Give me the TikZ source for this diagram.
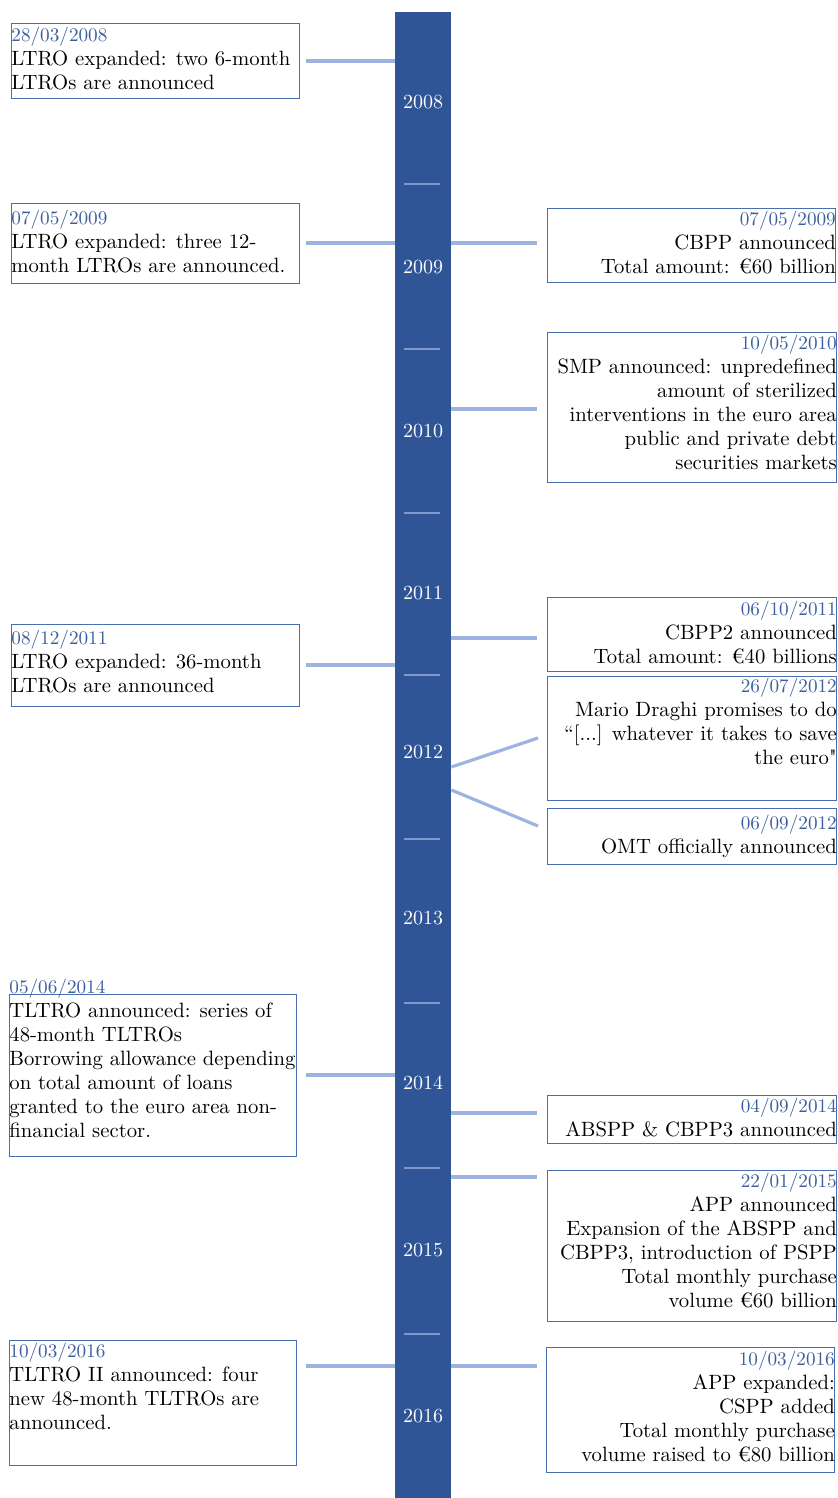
\documentclass[tikz,border=0pt]{standalone}
\usepackage{fontspec}
\usepackage{tikz}
\usetikzlibrary{positioning}
\newfontfamily\plainlm{Latin Modern Roman}
\definecolor{ecbblue}{HTML}{2F5597}
\definecolor{ecblight}{HTML}{9DB4E2}
\definecolor{ecbtick}{HTML}{7E98CC}
\definecolor{ecbframe}{HTML}{4A6FB0}
\definecolor{ecbdate}{HTML}{3A5E9E}
\newcommand{\evdate}[1]{{\fontsize{9.6pt}{12pt}\selectfont\textcolor{ecbdate}{#1}}}
\tikzset{
  bar/.style={rectangle, fill=ecbblue, inner sep=0pt, anchor=north},
  yearlbl/.style={text=white, inner sep=0pt},
  tickmark/.style={draw=ecbtick, line width=1pt},
  link/.style={draw=ecblight, line width=1.6pt},
  frame/.style={rectangle, draw=ecbframe, line width=0.6pt, inner sep=0pt, anchor=north west},
  evl/.style={inner sep=0pt, align=left, font=\fontsize{10.35pt}{12pt}\selectfont},
  evr/.style={inner sep=0pt, align=right, font=\fontsize{10.35pt}{12pt}\selectfont},
}

\begin{document}
\begin{tikzpicture}[x=0.5pt,y=-0.5pt]
  \useasboundingbox (0,0) rectangle (838,1498);
  % timeline bar
  \node[bar, minimum width=28pt, minimum height=743pt] (bar) at (423,12) {};
  \foreach \y in {184,349,513,675,839,1003,1168,1334}
    \draw[tickmark] (404,\y) -- (440,\y);
  \foreach \yr/\y in {2008/102,2009/267,2010/431,2011/593,2012/752,2013/918,2014/1083,2015/1250,2016/1416}
    \node[yearlbl] (y\yr) at (423,\y) {\yr};

  % connectors
  \foreach \n/\y in {a/61, b/243, c/665, d/1075, e/1366}{
    \coordinate (l\n) at (306,\y);
    \draw[link] (l\n) -- (bar.west |- l\n);
  }
  \foreach \n/\y in {a/243, b/409, c/638, f/1113, g/1177, h/1366}{
    \coordinate (r\n) at (537,\y);
    \draw[link] (bar.east |- r\n) -- (r\n);
  }
  \coordinate (rd) at (538,738);
  \coordinate (re) at (538,826);
  \coordinate (sd) at (451,767);
  \coordinate (se) at (451,790);
  \draw[link] (bar.east |- sd) -- (rd);
  \draw[link] (bar.east |- se) -- (re);

  % left events
  \node[frame, minimum width=144pt, minimum height=37.5pt] (fl08) at (11,23) {};
  \node[evl, below right=2pt and 0pt of fl08.north west] (tl08)
    {\evdate{28/03/2008}\\LTRO expanded: two 6-month\\LTROs are announced};
  \node[frame, minimum width=144pt, minimum height=40pt] (fl09) at (11,203) {};
  \node[evl, below right=3.5pt and 0pt of fl09.north west] (tl09)
    {\evdate{07/05/2009}\\LTRO expanded: three 12-\\month LTROs are announced.};
  \node[frame, minimum width=144pt, minimum height=41pt] (fl11) at (11,624) {};
  \node[evl, below right=3pt and 0pt of fl11.north west] (tl11)
    {\evdate{08/12/2011}\\LTRO expanded: 36-month\\LTROs are announced};
  \node[frame, minimum width=143.5pt, minimum height=81pt] (fl14) at (9,994) {};
  \node[evl, below right=-7.5pt and 0pt of fl14.north west] (tl14)
    {\evdate{05/06/2014}\\TLTRO announced: series of\\48-month TLTROs\\Borrowing allowance depending\\on total amount of loans\\granted to the euro area non-\\financial sector.};
  \node[frame, minimum width=143.5pt, minimum height=62.5pt] (fl16) at (9,1340) {};
  \node[evl, below right=1.5pt and 0pt of fl16.north west] (tl16)
    {\evdate{10/03/2016}\\TLTRO II announced: four\\new 48-month TLTROs are\\announced.};

  % right events
  \node[frame, minimum width=144pt, minimum height=37pt] (fr09) at (547,208) {};
  \node[evr, below left=1.5pt and 0pt of fr09.north east] (tr09)
    {\evdate{07/05/2009}\\CBPP announced\\Total amount: €60 billion};
  \node[frame, minimum width=144.5pt, minimum height=75pt] (fr10) at (547,332) {};
  \node[evr, below left=1.5pt and 0pt of fr10.north east] (tr10)
    {\evdate{10/05/2010}\\SMP announced: unpredefined\\amount of sterilized\\interventions in the euro area\\public and private debt\\securities markets};
  \node[frame, minimum width=144.5pt, minimum height=37pt] (fr11) at (547,597) {};
  \node[evr, below left=2pt and 0pt of fr11.north east] (tr11)
    {\evdate{06/10/2011}\\CBPP2 announced\\Total amount: €40 billions};
  \node[frame, minimum width=144.5pt, minimum height=62pt] (fr12a) at (547,676) {};
  \node[evr, below left=1pt and 0pt of fr12a.north east] (tr12a)
    {\evdate{26/07/2012}\\Mario Draghi promises to do\\“[...] whatever it takes to save\\the euro{\plainlm"}};
  \node[frame, minimum width=144.5pt, minimum height=28pt] (fr12b) at (547,808) {};
  \node[evr, below left=3.5pt and 0pt of fr12b.north east] (tr12b)
    {\evdate{06/09/2012}\\OMT officially announced};
  \node[frame, minimum width=144.5pt, minimum height=24pt] (fr14) at (547,1095) {};
  \node[evr, below left=1.5pt and 0pt of fr14.north east] (tr14)
    {\evdate{04/09/2014}\\ABSPP \& CBPP3 announced};
  \node[frame, minimum width=144.5pt, minimum height=75.5pt] (fr15) at (547,1170) {};
  \node[evr, below left=1.5pt and 0pt of fr15.north east] (tr15)
    {\evdate{22/01/2015}\\APP announced\\Expansion of the ABSPP and\\CBPP3, introduction of PSPP\\Total monthly purchase\\volume €60 billion};
  \node[frame, minimum width=144pt, minimum height=62.5pt] (fr16) at (546,1347) {};
  \node[evr, below left=2pt and 0pt of fr16.north east] (tr16)
    {\evdate{10/03/2016}\\APP expanded:\\CSPP added\\Total monthly purchase\\volume raised to €80 billion};
\end{tikzpicture}
\end{document}
